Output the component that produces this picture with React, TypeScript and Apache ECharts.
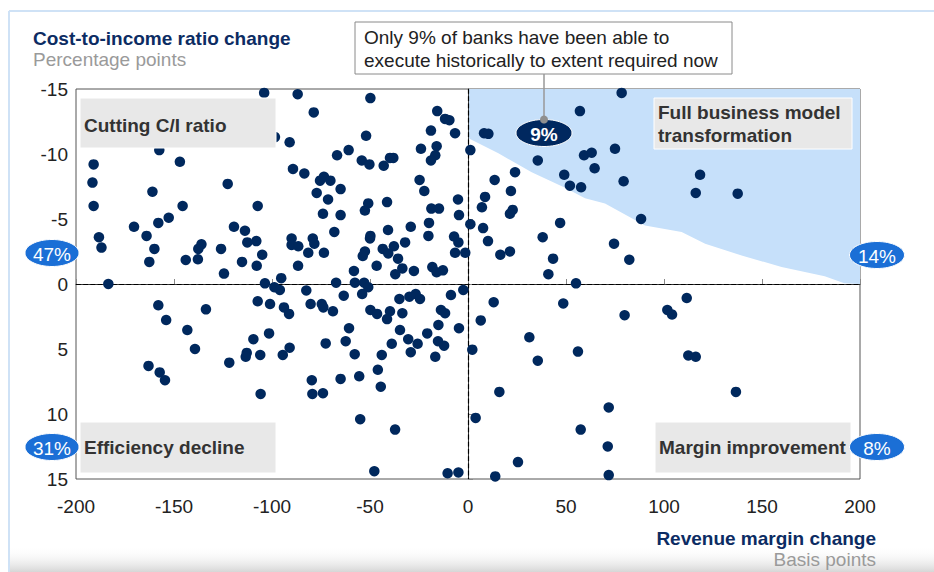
import React, { useEffect, useRef } from "react";
import * as echarts from "echarts";

// Revenue margin change (bp), cost-to-income ratio change (pp)
const pointsTopLeft: number[][] = [
  [-104, -14.7], [-157.5, -10.3], [-191, -9.2], [-147, -9.4], [-191.6, -7.8], [-122.6, -7.7],
  [-161, -7.1], [-191, -6.0], [-145.6, -6.0], [-107.3, -6.0], [-152.7, -5.1], [-158, -4.7],
  [-170.4, -4.4], [-119.4, -4.4], [-113.8, -4.1], [-188.3, -3.6], [-164, -3.7], [-108, -3.3],
  [-112.6, -3.2], [-187, -2.8], [-160, -2.7], [-136, -3.05], [-137.6, -2.7], [-126, -2.7],
  [-105, -2.25], [-162.6, -1.7], [-144, -1.85], [-137.8, -1.9], [-115.3, -1.7], [-107.8, -1.4],
  [-124.5, -0.8], [-183.5, 0.0], [-103.6, -0.05],
  [-86.9, -14.6], [-49.8, -14.3], [-78.7, -13.2], [-15.7, -13.3], [-11.7, -12.7], [-9.5, -12.6],
  [-18.9, -11.8], [-6.6, -11.6], [-98.5, -11.3], [-52, -11.4], [-91, -10.9], [-24, -10.4],
  [-16, -10.6], [-16.7, -9.9], [-18.9, -9.5], [-60.9, -10.3], [-66.8, -9.9], [-54.2, -9.5],
  [-50.3, -9.2], [-43, -9.1], [-39.8, -9.7], [-38.1, -9.7], [-89.3, -8.85], [-83.5, -8.5],
  [-75.5, -7.95], [-73.5, -8.25], [-70.2, -7.95], [-77.2, -7.0], [-65, -7.3], [-71.4, -6.5],
  [-24.7, -8.0], [-22.3, -7.15], [-50.9, -6.2], [-52.6, -5.65], [-41.3, -6.3], [-74, -5.4],
  [-65, -5.3], [-5.1, -6.5], [-18.7, -5.8], [-14.8, -5.8], [-4.6, -5.3], [-19.9, -4.7],
  [-29.2, -4.4], [-40.8, -4.15], [-49.8, -3.7], [-50, -3.5], [-68.2, -4.0], [-20.2, -3.7],
  [-7.1, -3.65], [-4.9, -3.2], [-90, -3.5], [-90, -3.0], [-86.6, -2.9], [-79.2, -3.5],
  [-78.4, -3.1], [-81.5, -2.4], [-73.5, -2.4], [-32.1, -3.2], [-37.8, -2.9], [-43.5, -2.7],
  [-40.7, -2.35], [-52.6, -2.5], [-53.7, -2.15], [-35.7, -1.95], [-6.6, -2.4], [-1.4, -2.4],
  [-86.7, -1.4], [-46.6, -1.4], [-33.5, -1.2], [-37.1, -0.75], [-27.6, -1.0], [-18.2, -1.3],
  [-16, -0.9], [-12.8, -1.05], [-58.2, -1.0], [-95.3, -0.45], [-67.3, -0.1], [-57.7, -0.1],
  [-53, -0.1],
];

const pointsBottomLeft: number[][] = [
  [-98.8, 0.25], [-96, 0.46], [-50.9, 0.25], [-54, 0.77], [-82.5, 0.5], [-63.4, 0.9],
  [-101, 1.54], [-93.9, 1.8], [-91.3, 2.3], [-80.3, 1.54], [-74.6, 1.54], [-73.8, 1.8],
  [-68.9, 2.1], [-35, 1.15], [-29.9, 0.98], [-26.7, 0.77], [-24.5, 1.15], [-8.7, 0.85],
  [-2.4, 0.46], [-49.8, 2.0], [-46.4, 2.3], [-39.8, 2.1], [-41.3, 2.7], [-33.5, 2.25],
  [-13.8, 2.0], [-11.7, 2.25], [-101.5, 3.8], [-60.7, 3.4], [-34.7, 3.54], [-15.1, 3.15],
  [-4.6, 3.4], [-20.8, 3.8], [-30.5, 4.25], [-72.6, 4.57], [-62.4, 4.4], [-38.9, 4.6],
  [-25.7, 4.6], [-15.3, 4.4], [-12.2, 4.75], [-91, 4.9], [-94.5, 5.46], [-57.8, 5.4],
  [-44, 5.46], [-29.2, 5.25], [-16.7, 5.6], [-46, 6.6], [-44.5, 7.9], [-79.7, 7.4],
  [-79.4, 8.46], [-74, 8.4], [-65, 7.3], [-55.5, 7.1], [-55, 10.4], [-37.2, 11.2],
  [-47.8, 14.4], [-10.4, 14.56], [-4.9, 14.5],
  [-158, 1.64], [-154, 2.77], [-133.7, 1.95], [-107.3, 1.33], [-143.2, 3.54], [-139.3, 5.0],
  [-109.5, 4.25], [-112.9, 5.3], [-113.4, 5.6], [-106, 5.46], [-121.8, 6.05], [-163, 6.3],
  [-157.3, 6.8], [-154.6, 7.4], [-105.8, 8.46],
];

const pointsTopRight: number[][] = [
  [1.2, -10.3], [1.2, -4.6],
  [78.4, -14.7], [57.1, -13.3], [8.2, -11.6], [10.4, -11.55], [35.6, -9.5], [75, -10.4],
  [59.2, -9.9], [63.1, -10.1], [64.6, -8.9], [24, -8.6], [49.1, -8.4], [118.4, -8.4],
  [13.6, -8.0], [79.4, -7.9], [52, -7.56], [57.7, -7.44], [116.2, -7.0], [137.6, -6.95],
  [21.9, -7.15], [8.7, -6.7], [7.1, -5.9], [22.8, -5.7], [21.4, -5.4], [88.3, -5.0],
  [7.7, -4.3], [47, -4.7], [38.1, -3.6], [10.2, -3.3], [74.5, -3.1], [16.5, -2.25],
  [21.4, -2.5], [43.4, -1.95], [82.3, -1.87], [41, -0.75], [55.1, -0.05],
];

const pointsBottomRight: number[][] = [
  [13.1, 1.4], [48.6, 1.5], [79.9, 2.4], [101.7, 2.0], [104.1, 2.35], [111.6, 1.08],
  [6.5, 2.8], [31.3, 4.1], [2.2, 5.05], [35.6, 5.9], [56.1, 5.2], [112.4, 5.5],
  [116.2, 5.6], [16, 8.3], [136.7, 8.3], [71.8, 9.5], [3.9, 10.3], [57.5, 11.2],
  [71.3, 12.5], [25.5, 13.7], [13.9, 14.8], [71.8, 14.7],
];

// Frontier of the "required now" region (top-right shaded area)
const frontier: number[][] = [
  [0.5, -11.2], [15.5, -10.05], [32.5, -8.6], [49.5, -7.4], [59.7, -6.6], [69.9, -6.2],
  [90.3, -4.5], [109, -4.0], [121, -3.1], [139.6, -2.2], [160, -1.3], [182, -0.6],
  [192, -0.05], [200, 0],
];

const xTicks = { min: -200, max: 200, interval: 50 };
const yTicks = { min: -15, max: 15, interval: 5 };

const quadrantShares = ["47%", "31%", "14%", "8%"];
const highlightShare = "9%";

const FONT = "'Liberation Sans', Arial, Helvetica, sans-serif";
const NAVY = "#0c2c63";
const DOT = "#00285d";
const BADGE = "#1b6fd6";
const BOX = "#e8e8e8";

export default function App() {
  const ref = useRef<HTMLDivElement>(null);

  useEffect(() => {
    if (!ref.current) return;
    const chart = echarts.init(ref.current, undefined, { renderer: "svg" });

    const allPoints = [...pointsTopLeft, ...pointsBottomLeft, ...pointsTopRight, ...pointsBottomRight];

    const badge = (cx: number, cy: number, rx: number, ry: number, text: string, fill: string, bold: boolean) => [
      {
        type: "ellipse",
        z: 110,
        shape: { cx, cy, rx, ry },
        style: { fill, stroke: "#ffffff", lineWidth: 1 },
      },
      {
        type: "text",
        z: 111,
        x: cx,
        y: cy + 1,
        style: {
          text,
          fill: "#ffffff",
          font: `${bold ? "bold " : ""}19px ${FONT}`,
          align: "center",
          verticalAlign: "middle",
        },
      },
    ];

    const labelBox = (x: number, y: number, w: number, h: number, text: string, ty: number) => [
      {
        type: "rect",
        z: 100,
        shape: { x, y, width: w, height: h },
        style: { fill: BOX, stroke: "#ffffff", lineWidth: 1 },
      },
      {
        type: "text",
        z: 101,
        x: x + 4,
        y: ty,
        style: {
          text,
          fill: "#333333",
          font: `bold 19px ${FONT}`,
          align: "left",
          verticalAlign: "middle",
          lineHeight: 23,
        },
      },
    ];

    const option: any = {
      animation: false,
      backgroundColor: "#ffffff",
      grid: {
        left: 76,
        top: 89,
        width: 784,
        height: 390,
        show: true,
        borderColor: "#555555",
        borderWidth: 1,
        backgroundColor: "transparent",
      },
      xAxis: {
        type: "value",
        min: xTicks.min,
        max: xTicks.max,
        interval: xTicks.interval,
        axisLine: { show: true, lineStyle: { color: "#333333", width: 1 } },
        axisTick: { show: true, inside: true, length: 5, lineStyle: { color: "#888888" } },
        splitLine: { show: false },
        axisLabel: { color: "#222222", fontSize: 19, fontFamily: FONT, margin: 18 },
      },
      yAxis: {
        type: "value",
        inverse: true,
        min: yTicks.min,
        max: yTicks.max,
        interval: yTicks.interval,
        axisLine: { show: true, lineStyle: { color: "#333333", width: 1 } },
        axisTick: { show: true, inside: true, length: 5, lineStyle: { color: "#888888" } },
        splitLine: { show: false },
        axisLabel: { color: "#222222", fontSize: 19, fontFamily: FONT, margin: 8 },
      },
      series: [
        {
          type: "line",
          data: frontier,
          symbol: "none",
          silent: true,
          z: 1,
          lineStyle: { width: 0, opacity: 0 },
          areaStyle: { color: "#c6e0fa", opacity: 1, origin: "start" },
        },
        {
          type: "scatter",
          data: allPoints,
          symbol: "circle",
          symbolSize: 10.5,
          z: 3,
          itemStyle: { color: DOT, opacity: 1 },
          markLine: {
            silent: true,
            symbol: "none",
            label: { show: false },
            lineStyle: { color: "#000000", type: "dashed", width: 1.2, opacity: 1 },
            emphasis: { disabled: true },
            data: [{ xAxis: 0 }, { yAxis: 0 }],
            z: 2,
          },
        },
      ],
      graphic: [
        // outer frame
        { type: "line", z: 0, shape: { x1: 9, y1: 11, x2: 934, y2: 11 }, style: { stroke: "#cfe2f6", lineWidth: 2 } },
        { type: "line", z: 0, shape: { x1: 9, y1: 11, x2: 9, y2: 572 }, style: { stroke: "#cfe2f6", lineWidth: 2 } },
        {
          type: "rect",
          z: 0,
          shape: { x: 10, y: 546, width: 924, height: 26 },
          style: {
            fill: new echarts.graphic.LinearGradient(0, 0, 0, 1, [
              { offset: 0, color: "rgba(255,255,255,0)" },
              { offset: 1, color: "#d6d6d6" },
            ]),
          },
        },
        // titles
        {
          type: "text",
          x: 33,
          y: 38,
          style: { text: "Cost-to-income ratio change", fill: NAVY, font: `bold 19px ${FONT}`, verticalAlign: "middle" },
        },
        {
          type: "text",
          x: 33,
          y: 59,
          style: { text: "Percentage points", fill: "#9a9a9a", font: `19px ${FONT}`, verticalAlign: "middle" },
        },
        {
          type: "text",
          x: 876,
          y: 538,
          style: { text: "Revenue margin change", fill: NAVY, font: `bold 19px ${FONT}`, align: "right", verticalAlign: "middle" },
        },
        {
          type: "text",
          x: 876,
          y: 559,
          style: { text: "Basis points", fill: "#9a9a9a", font: `19px ${FONT}`, align: "right", verticalAlign: "middle" },
        },
        // callout
        {
          type: "rect",
          z: 100,
          shape: { x: 355, y: 22, width: 377, height: 52 },
          style: { fill: "#ffffff", stroke: "#8a8a8a", lineWidth: 1 },
        },
        {
          type: "text",
          z: 101,
          x: 364,
          y: 37.5,
          style: { text: "Only 9% of banks have been able to", fill: "#222222", font: `19px ${FONT}`, verticalAlign: "middle" },
        },
        {
          type: "text",
          z: 101,
          x: 364,
          y: 60.5,
          style: { text: "execute historically to extent required now", fill: "#222222", font: `19px ${FONT}`, verticalAlign: "middle" },
        },
        { type: "line", z: 100, shape: { x1: 544, y1: 74, x2: 544, y2: 119 }, style: { stroke: "#999999", lineWidth: 1.5 } },
        ...badge(544, 133, 28, 13.5, highlightShare, "#00285f", true),
        { type: "circle", z: 112, shape: { cx: 544, cy: 119.5, r: 4 }, style: { fill: "#8f8f8f" } },
        // quadrant labels
        ...labelBox(80, 98, 196, 50, "Cutting C/I ratio", 125),
        ...labelBox(654, 98, 198, 51, "Full business model\ntransformation", 124),
        ...labelBox(80, 422, 196, 51, "Efficiency decline", 447.5),
        ...labelBox(655, 422, 196, 51, "Margin improvement", 447.5),
        // quadrant shares
        ...badge(52, 253, 27, 13.5, quadrantShares[0], BADGE, false),
        ...badge(52, 447, 27, 13.5, quadrantShares[1], BADGE, false),
        ...badge(877, 255, 27.5, 13.5, quadrantShares[2], BADGE, false),
        ...badge(877, 447, 27.5, 13.5, quadrantShares[3], BADGE, false),
      ],
    };

    chart.setOption(option);
    return () => chart.dispose();
  }, []);

  return (
    <div
      ref={ref}
      style={{ position: "fixed", left: 0, top: 0, width: 934, height: 572, background: "#ffffff" }}
    />
  );
}
